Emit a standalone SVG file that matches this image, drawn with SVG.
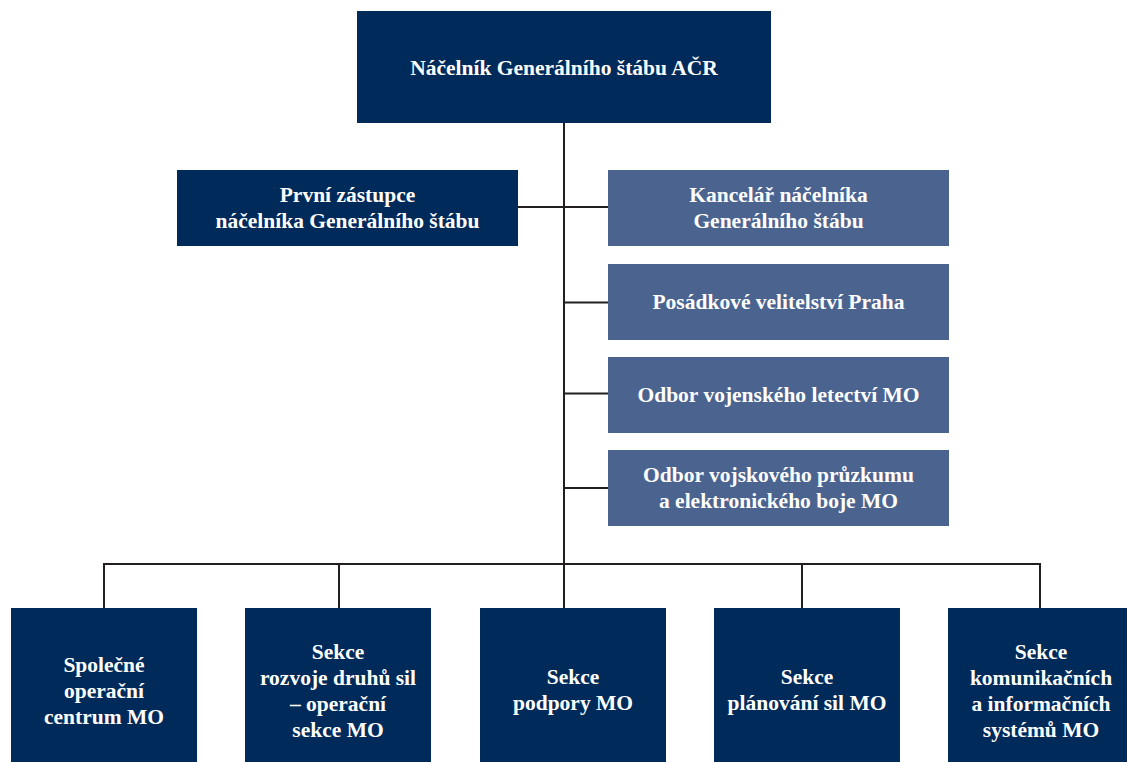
<svg xmlns="http://www.w3.org/2000/svg" width="1127" height="762" viewBox="0 0 1127 762">
<style>
.dark{fill:#002a5a}
.light{fill:#4b648f}
.t{font-family:"Liberation Serif","Times New Roman",serif;font-weight:bold;font-size:21.5px;fill:#ffffff;text-anchor:middle}
.c{stroke:#231f20;stroke-width:2;fill:none}
</style>
<rect width="1127" height="762" fill="#ffffff"/>
<g id="connectors">
<path class="c" d="M564 122V564"/>
<path class="c" d="M518 207H564"/>
<path class="c" d="M564 207H608M564 302.5H608M564 393.5H608M564 488H608"/>
<path class="c" d="M104 608V564H1040V608M339 564V608M564 564V608M802 564V608"/>
</g>
<g id="n-top"><rect class="dark" x="357" y="11" width="414" height="112"/><text class="t" x="564" y="75">Náčelník Generálního štábu AČR</text></g>
<g id="n-deputy"><rect class="dark" x="177" y="170" width="341" height="76"/><text class="t" x="347.5" y="201.5">První zástupce</text><text class="t" x="347.5" y="228">náčelníka Generálního štábu</text></g>
<g id="n-kancelar"><rect class="light" x="608" y="170" width="341" height="76"/><text class="t" x="778.5" y="201.5">Kancelář náčelníka</text><text class="t" x="778.5" y="228">Generálního štábu</text></g>
<g id="n-posadkove"><rect class="light" x="608" y="264" width="341" height="76"/><text class="t" x="778.5" y="309">Posádkové velitelství Praha</text></g>
<g id="n-letectvi"><rect class="light" x="608" y="357" width="341" height="76"/><text class="t" x="778.5" y="401.5">Odbor vojenského letectví MO</text></g>
<g id="n-pruzkum"><rect class="light" x="608" y="450" width="341" height="76"/><text class="t" x="778.5" y="481.5">Odbor vojskového průzkumu</text><text class="t" x="778.5" y="508">a elektronického boje MO</text></g>
<g id="n-spolecne"><rect class="dark" x="11" y="608" width="186" height="154"/><text class="t" x="104" y="671.5">Společné</text><text class="t" x="104" y="697.5">operační</text><text class="t" x="104" y="723.5">centrum MO</text></g>
<g id="n-rozvoje"><rect class="dark" x="245" y="608" width="186" height="154"/><text class="t" x="338" y="658.5">Sekce</text><text class="t" x="338" y="684.5">rozvoje druhů sil</text><text class="t" x="338" y="710.5">– operační</text><text class="t" x="338" y="737">sekce MO</text></g>
<g id="n-podpory"><rect class="dark" x="480" y="608" width="186" height="154"/><text class="t" x="573" y="683.5">Sekce</text><text class="t" x="573" y="710">podpory MO</text></g>
<g id="n-planovani"><rect class="dark" x="714" y="608" width="186" height="154"/><text class="t" x="807" y="683.5">Sekce</text><text class="t" x="807" y="710">plánování sil MO</text></g>
<g id="n-komunikacnich"><rect class="dark" x="948" y="608" width="186" height="154"/><text class="t" x="1041" y="658.5">Sekce</text><text class="t" x="1041" y="684.5">komunikačních</text><text class="t" x="1041" y="710.5">a informačních</text><text class="t" x="1041" y="737">systémů MO</text></g>
</svg>
